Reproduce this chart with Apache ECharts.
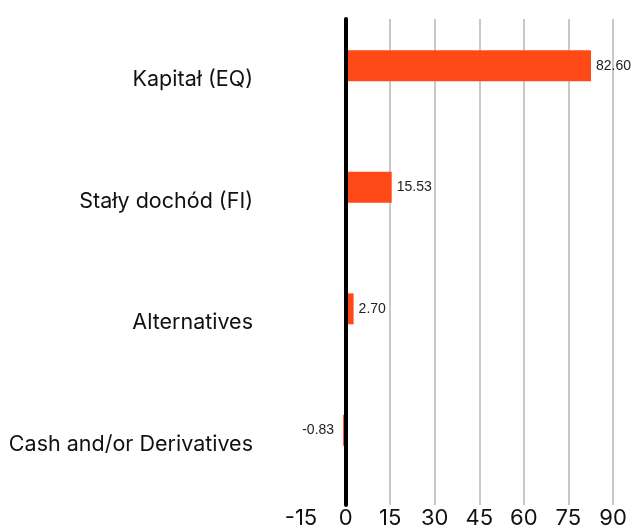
<!DOCTYPE html>
<html><head><meta charset="utf-8">
<script src="https://cdn.jsdelivr.net/npm/echarts@6/dist/echarts.min.js"></script>
<style>html,body{margin:0;padding:0;background:#fff}#c{width:636px;height:529px}</style>
</head><body><div id="c"></div>
<script>
var categories = ['Kapitał (EQ)', 'Stały dochód (FI)', 'Alternatives', 'Cash and/or Derivatives'];
var fundValues = [82.60, 15.53, 2.70, -0.83];
var benchmarkValues = [null, null, null, null];
var tickMin = -15, tickMax = 90, tickStep = 15;

var chart = echarts.init(document.getElementById('c'));
chart.setOption({
  animation: false,
  grid: {left: 301, right: 23, top: 19, bottom: 24, containLabel: false, outerBoundsMode: 'none'},
  xAxis: {
    type: 'value', min: tickMin, max: tickMax, interval: tickStep,
    axisLine: {show: false}, axisTick: {show: false},
    axisLabel: {color: '#111', fontFamily: 'Inter', fontSize: 22, margin: 2,
      formatter: function(v){ return String(v); }},
    splitLine: {show: true, showMinLine: false, lineStyle: {color: '#c8c8c8', width: 2}}
  },
  yAxis: {
    type: 'category', data: categories, inverse: true, z: 5,
    axisLine: {show: true, onZero: true, lineStyle: {color: '#000', width: 4}},
    axisTick: {show: false},
    axisLabel: {color: '#111', fontFamily: 'Inter', fontSize: 21.5, margin: 48}
  },
  series: [
    {type: 'bar', data: fundValues.map(function(v){
        return v < 0 ? {value: v, label: {position: 'left', distance: 9}} : v; }),
     barWidth: 31, barGap: '-10%',
     itemStyle: {color: '#ff4a17'},
     label: {show: true, color: '#222', fontFamily: 'Arial', fontSize: 14, distance: 5,
       position: 'right',
       formatter: function(p){ return p.value.toFixed(2); }}
    },
    {type: 'bar', data: benchmarkValues, barWidth: 31, itemStyle: {color: '#000'}}
  ]
});
</script></body></html>
